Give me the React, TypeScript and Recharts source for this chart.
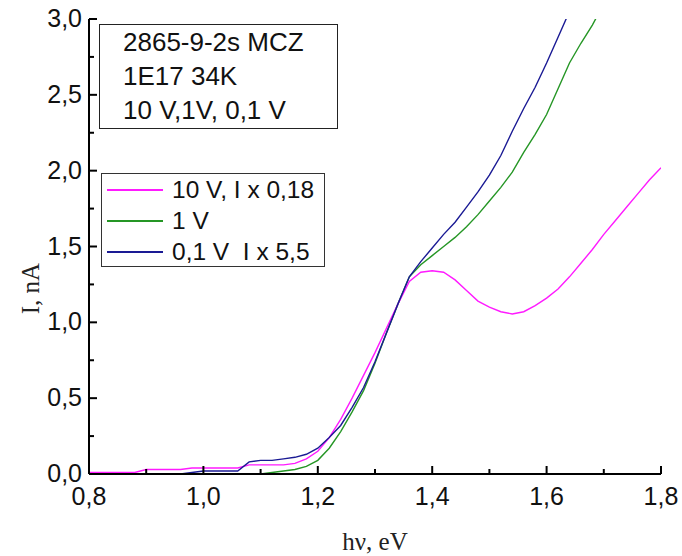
import { CartesianGrid, Line, LineChart, XAxis, YAxis } from "recharts";

// photon energy, eV (shared grid for all three curves)
const ENERGY = [
  0.8, 0.82, 0.84, 0.86, 0.88, 0.9, 0.92, 0.94, 0.96, 0.98,
  1.0, 1.02, 1.04, 1.06, 1.08, 1.1, 1.12, 1.14, 1.16, 1.18,
  1.2, 1.22, 1.24, 1.26, 1.28, 1.3, 1.32, 1.34, 1.36, 1.38,
  1.4, 1.42, 1.44, 1.46, 1.48, 1.5, 1.52, 1.54, 1.56, 1.58,
  1.6, 1.62, 1.64, 1.66, 1.68, 1.7, 1.72, 1.74, 1.76, 1.78, 1.8,
];

// 10 V, current scaled x 0.18
const I_10V = [
  0.01, 0.01, 0.01, 0.01, 0.01, 0.03, 0.03, 0.03, 0.03, 0.04,
  0.04, 0.04, 0.04, 0.04, 0.06, 0.06, 0.06, 0.06, 0.07, 0.1,
  0.15, 0.24, 0.36, 0.5, 0.65, 0.8, 0.96, 1.12, 1.27, 1.33,
  1.34, 1.33, 1.28, 1.21, 1.14, 1.1, 1.07, 1.055, 1.07, 1.11,
  1.16, 1.22, 1.3, 1.39, 1.48, 1.58, 1.67, 1.76, 1.85, 1.94, 2.02,
];

// 1 V
const I_1V = [
  0, 0, 0, 0, 0, 0, 0, 0, 0, 0,
  0, 0, 0, 0, 0, 0, 0.01, 0.02, 0.03, 0.05,
  0.09, 0.17, 0.28, 0.41, 0.55, 0.73, 0.93, 1.12, 1.3, 1.38,
  1.44, 1.5, 1.56, 1.63, 1.71, 1.8, 1.89, 1.99, 2.12, 2.24,
  2.37, 2.54, 2.71, 2.84, 2.96, 3.1, 3.25, null, null, null, null,
];

// 0,1 V, current scaled x 5.5
const I_01V = [
  0, 0, 0, 0, 0, 0, 0, 0, 0, 0.01,
  0.02, 0.02, 0.02, 0.02, 0.08, 0.09, 0.09, 0.1, 0.11, 0.13,
  0.17, 0.24, 0.32, 0.44, 0.57, 0.74, 0.93, 1.12, 1.3, 1.4,
  1.49, 1.58, 1.66, 1.76, 1.86, 1.97, 2.1, 2.26, 2.41, 2.55,
  2.71, 2.88, 3.05, 3.2, null, null, null, null, null, null, null,
];

const X_TICKS = [0.8, 0.9, 1.0, 1.1, 1.2, 1.3, 1.4, 1.5, 1.6, 1.7, 1.8];
const Y_TICKS = [0, 0.25, 0.5, 0.75, 1, 1.25, 1.5, 1.75, 2, 2.25, 2.5, 2.75, 3];

const INFO_LINES = ["2865-9-2s MCZ", "1E17 34K", "10 V,1V, 0,1 V"];

const SERIES = [
  { key: "v10", name: "10 V, I x 0,18", color: "#ff1aff", values: I_10V },
  { key: "v1", name: "1 V", color: "#259625", values: I_1V },
  { key: "v01", name: "0,1 V  I x 5,5", color: "#1a1a94", values: I_01V },
];

const SANS = "'Liberation Sans', Arial, sans-serif";
const SERIF = "'Liberation Serif', 'Times New Roman', serif";

const data = ENERGY.map((e, i) => {
  const row: Record<string, number | null> = { e };
  for (const s of SERIES) row[s.key] = s.values[i];
  return row;
});

const fmt = (v: number) => v.toFixed(1).replace(".", ",");

// inward ticks, labels only on the bottom/left axes
// eslint-disable-next-line @typescript-eslint/no-explicit-any
function AxisTick({ x, y, payload, side }: any) {
  const v = payload.value as number;
  const major =
    side === "bottom" || side === "top"
      ? Math.round(v * 10) % 2 === 0
      : Math.round(v * 4) % 2 === 0;
  const len = major ? 8 : 5;
  const line = { stroke: "#000", strokeWidth: 2 };
  if (side === "bottom")
    return (
      <g>
        <line x1={x} y1={y} x2={x} y2={y - len} {...line} />
        {major && (
          <text x={x} y={y + 31} textAnchor="middle" fontSize={25} fontFamily={SANS} fill="#111">
            {fmt(v)}
          </text>
        )}
      </g>
    );
  if (side === "left")
    return (
      <g>
        <line x1={x} y1={y} x2={x + len} y2={y} {...line} />
        {major && (
          <text x={x - 7} y={y + 8} textAnchor="end" fontSize={25} fontFamily={SANS} fill="#111">
            {fmt(v)}
          </text>
        )}
      </g>
    );
  if (side === "top") return <line x1={x} y1={y} x2={x} y2={y + len} {...line} />;
  return <line x1={x} y1={y} x2={x - len} y2={y} {...line} />;
}

const axisLine = { stroke: "#000", strokeWidth: 2 };

export default function App() {
  return (
    <div style={{ position: "absolute", left: 0, top: 0, width: 682, height: 556, background: "#fff" }}>
      <LineChart width={682} height={556} data={data} margin={{ top: 19, right: 21, bottom: 0, left: 0 }}>
        <CartesianGrid stroke="none" />
        <XAxis
          dataKey="e"
          type="number"
          domain={[0.8, 1.8]}
          ticks={X_TICKS}
          interval={0}
          allowDataOverflow
          height={82}
          tickSize={0}
          tickMargin={0}
          tickLine={false}
          axisLine={axisLine}
          tick={(p) => <AxisTick {...p} side="bottom" />}
          label={{
            content: ({ viewBox }: any) => (
              <text
                x={viewBox.x + viewBox.width / 2}
                y={viewBox.y + 76}
                textAnchor="middle"
                fontSize={25}
                fontFamily={SERIF}
                fill="#222"
              >
                hν, eV
              </text>
            ),
          }}
        />
        <XAxis
          xAxisId="top"
          orientation="top"
          dataKey="e"
          type="number"
          domain={[0.8, 1.8]}
          ticks={X_TICKS}
          interval={0}
          allowDataOverflow
          height={0}
          tickSize={0}
          tickMargin={0}
          tickLine={false}
          axisLine={axisLine}
          tick={(p) => <AxisTick {...p} side="top" />}
        />
        <YAxis
          type="number"
          domain={[0, 3]}
          ticks={Y_TICKS}
          interval={0}
          allowDataOverflow
          width={89}
          tickSize={0}
          tickMargin={0}
          tickLine={false}
          axisLine={axisLine}
          tick={(p) => <AxisTick {...p} side="left" />}
          label={{
            content: ({ viewBox }: any) => {
              const cx = 30;
              const cy = viewBox.y + viewBox.height / 2 + 42;
              return (
                <text
                  x={cx}
                  y={cy}
                  transform={`rotate(-90, ${cx}, ${cy})`}
                  textAnchor="middle"
                  dominantBaseline="central"
                  fontSize={25}
                  fontFamily={SERIF}
                  fill="#222"
                >
                  I, nA
                </text>
              );
            },
          }}
        />
        <YAxis
          yAxisId="right"
          orientation="right"
          type="number"
          domain={[0, 3]}
          ticks={Y_TICKS}
          interval={0}
          allowDataOverflow
          width={0}
          tickSize={0}
          tickMargin={0}
          tickLine={false}
          axisLine={axisLine}
          tick={(p) => <AxisTick {...p} side="right" />}
        />
        {[SERIES[1], SERIES[0], SERIES[2]].map((s) => (
          <Line
            key={s.key}
            dataKey={s.key}
            name={s.name}
            type="linear"
            stroke={s.color}
            strokeWidth={1.4}
            dot={false}
            connectNulls={false}
            isAnimationActive={false}
          />
        ))}
      </LineChart>

      {/* sample info box */}
      <div
        style={{
          position: "absolute",
          left: 99,
          top: 24,
          width: 239,
          height: 105,
          border: "1px solid #222",
          fontFamily: SANS,
          fontSize: 26,
          lineHeight: "34px",
          color: "#111",
          paddingLeft: 23,
          boxSizing: "border-box",
        }}
      >
        {INFO_LINES.map((t) => (
          <div key={t} style={{ whiteSpace: "nowrap" }}>
            {t}
          </div>
        ))}
      </div>

      {/* legend */}
      <div
        style={{
          position: "absolute",
          left: 101,
          top: 173,
          width: 224,
          height: 94,
          border: "1px solid #333",
          boxSizing: "border-box",
          fontFamily: SANS,
          fontSize: 24.5,
          color: "#111",
          background: "#fff",
        }}
      >
        {SERIES.map((s) => (
          <div key={s.key} style={{ display: "flex", alignItems: "center", height: 31, whiteSpace: "pre" }}>
            <div style={{ width: 56, height: 2, background: s.color, marginLeft: 5, marginRight: 9 }} />
            <span>{s.name}</span>
          </div>
        ))}
      </div>
    </div>
  );
}
